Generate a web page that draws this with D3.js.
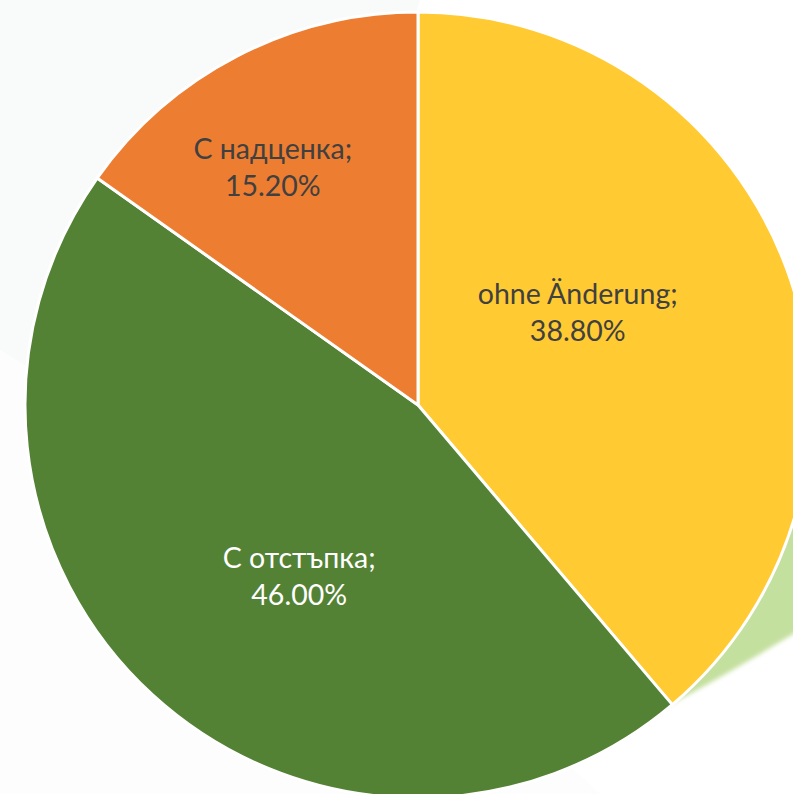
<!DOCTYPE html>
<html>
<head>
<meta charset="utf-8">
<script src="https://cdn.jsdelivr.net/npm/d3@7"></script>
<style>
  html, body { margin: 0; padding: 0; background: #ffffff; overflow: hidden; }
  svg { display: block; }
</style>
</head>
<body>
<svg id="chart" width="793" height="794"></svg>
<script>
// chart data
const categories = ["ohne Änderung", "С отстъпка", "С надценка"];
const values = [38.8, 46.0, 15.2];
const valueLabels = ["38.80%", "46.00%", "15.20%"];
const colors = ["#FFCA32", "#548235", "#ED7D31"];
const textColors = ["#404040", "#ffffff", "#404040"];

const width = 793;
const height = 794;
const cx = 418;
const cy = 405;
const radius = 393;

// label placement (fraction of radius, angle shift in degrees) - Excel best fit
const labelPlacement = [
  { r: 0.47, shift: -10 },
  { r: 0.53, shift: -7.7 },
  { r: 0.71, shift: -4 },
];

const svg = d3.select("#chart");

// faint background shapes
const bg = svg.append("g");
bg.append("rect").attr("width", width).attr("height", height).attr("fill", "#ffffff");
bg.append("path")
  .attr("d", "M0,0 L420,0 L160,794 L0,794 Z")
  .attr("fill", "#f9fafa");
bg.append("path")
  .attr("d", "M0,350 C200,470 420,620 600,794 L0,794 Z")
  .attr("fill", "#fdfdfd");

const defs = svg.append("defs");
defs.append("filter").attr("id", "soft")
  .append("feGaussianBlur").attr("stdDeviation", 2);

// light green swoosh behind the pie
bg.append("path")
  .attr("d", "M640,720 C700,690 750,660 800,630 L800,420 L640,420 Z")
  .attr("fill", "#c4e09e")
  .attr("filter", "url(#soft)");

const pie = d3.pie().sort(null).value((d) => d);
const arcs = pie(values);
const arc = d3.arc().innerRadius(0).outerRadius(radius);

const g = svg.append("g").attr("transform", `translate(${cx},${cy})`);

g.selectAll(".slice")
  .data(arcs)
  .join("path")
  .attr("class", "slice")
  .attr("d", arc)
  .attr("fill", (d, i) => colors[i])
  .attr("stroke", "#ffffff")
  .attr("stroke-width", 3)
  .attr("stroke-linejoin", "round");

const labels = g.selectAll(".label")
  .data(arcs)
  .join("text")
  .attr("class", "label")
  .attr("text-anchor", "middle")
  .attr("font-family", "Lato, 'Open Sans', sans-serif")
  .attr("font-size", 28.5)
  .attr("fill", (d, i) => textColors[i])
  .attr("transform", (d, i) => {
    const p = labelPlacement[i];
    const a = (d.startAngle + d.endAngle) / 2 + (p.shift * Math.PI) / 180;
    const r = radius * p.r;
    return `translate(${r * Math.sin(a)},${-r * Math.cos(a)})`;
  });

labels.append("tspan")
  .attr("x", 0)
  .attr("dy", -8)
  .text((d, i) => categories[i] + ";");
labels.append("tspan")
  .attr("x", 0)
  .attr("dy", 37)
  .text((d, i) => valueLabels[i]);
</script>
</body>
</html>
